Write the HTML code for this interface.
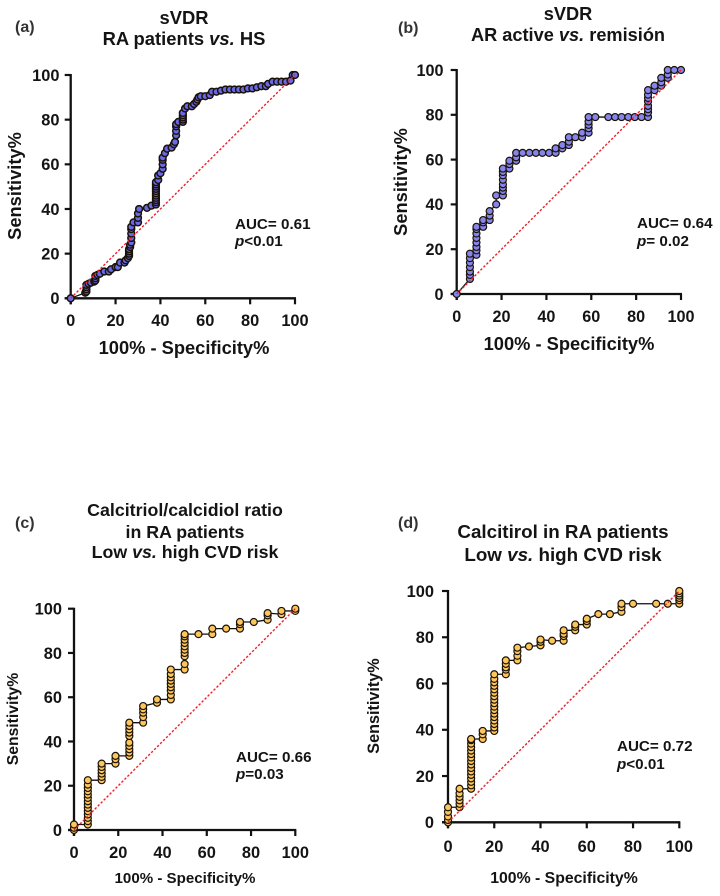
<!DOCTYPE html>
<html lang="en">
<head>
<meta charset="utf-8">
<title>ROC curves</title>
<style>
html,body{margin:0;padding:0;background:#fff;}
svg{display:block;}
text{font-family:"Liberation Sans",sans-serif;font-weight:bold;fill:#141414;}
.panel-label{font-size:16px;fill:#333;}
</style>
</head>
<body>
<svg id="figure" xmlns="http://www.w3.org/2000/svg" width="720" height="896" viewBox="0 0 720 896">
  <rect x="0" y="0" width="720" height="896" fill="#ffffff"/>

  <g>
    <text class="panel-label" x="15" y="32">(a)</text>
    <text text-anchor="middle" font-size="18.4" x="184"><tspan x="184" y="24">sVDR</tspan><tspan x="184" y="45">RA patients <tspan font-style="italic">vs.</tspan> HS</tspan></text>
    <text text-anchor="middle" font-size="18.3" x="184" y="354">100% - Specificity%</text>
    <text text-anchor="middle" font-size="18.3" transform="translate(21 186) rotate(-90)">Sensitivity%</text>
    <text font-size="15.2" x="235" y="229">AUC= 0.61</text>
    <text font-size="15.2" x="235" y="246"><tspan font-style="italic">p</tspan>&lt;0.01</text>
  </g>

  <g>
    <text class="panel-label" x="398" y="33">(b)</text>
    <text text-anchor="middle" font-size="18.2" x="568"><tspan x="568" y="20">sVDR</tspan><tspan x="568" y="41">AR active <tspan font-style="italic">vs.</tspan> remisión</tspan></text>
    <text text-anchor="middle" font-size="18.3" x="569" y="350">100% - Specificity%</text>
    <text text-anchor="middle" font-size="18.3" transform="translate(407 182) rotate(-90)">Sensitivity%</text>
    <text font-size="15.2" x="637" y="228">AUC= 0.64</text>
    <text font-size="15.2" x="637" y="246"><tspan font-style="italic">p</tspan>= 0.02</text>
  </g>

  <g>
    <text class="panel-label" x="15" y="528">(c)</text>
    <text text-anchor="middle" font-size="17.8" x="185"><tspan x="185" y="516">Calcitriol/calcidiol ratio</tspan><tspan x="185" y="538">in RA patients</tspan><tspan x="185" y="558">Low <tspan font-style="italic">vs.</tspan> high CVD risk</tspan></text>
    <text text-anchor="middle" font-size="15.1" x="185" y="883">100% - Specificity%</text>
    <text text-anchor="middle" font-size="15.7" transform="translate(18 719) rotate(-90)">Sensitivity%</text>
    <text font-size="15.2" x="236" y="762">AUC= 0.66</text>
    <text font-size="15.2" x="236" y="779"><tspan font-style="italic">p</tspan>=0.03</text>
  </g>

  <g>
    <text class="panel-label" x="398" y="528">(d)</text>
    <text text-anchor="middle" font-size="18.8" x="563"><tspan x="563" y="538">Calcitirol in RA patients</tspan><tspan x="563" y="561">Low <tspan font-style="italic">vs.</tspan> high CVD risk</tspan></text>
    <text text-anchor="middle" font-size="15.8" x="564" y="883">100% - Specificity%</text>
    <text text-anchor="middle" font-size="16.2" transform="translate(379 706) rotate(-90)">Sensitivity%</text>
    <text font-size="15.2" x="617" y="751">AUC= 0.72</text>
    <text font-size="15.2" x="617" y="769"><tspan font-style="italic">p</tspan>&lt;0.01</text>
  </g>
</svg>

<script>
const tickLabels = [0, 20, 40, 60, 80, 100];

const fprA = [0,6.5,7,7,7,7,8,9,10.5,11,11,11,12,13,15,17,18,20,21,22,24,24.5,25.5,26,26,26,26,26.5,26.5,27,27,27,27,27,28,30,30,30,30.5,34,36,38,38,38,38,38,38,38,38,38,38,38,39,39,40,41,41,41,41,42,43,45,46,46.5,47,47,47,47,48,50,50,50,50,50,51,52,54,55,56,56.5,57,58,60,62,63,65,67,69,71,73,75,77,79,81,83,85,87,88,90,92,94,96,98,99,100];
const tprA = [0,2.5,3,4,5,6,6.5,7,7.5,8,9,10,10.5,11,12,12,13,14,14,16,16,17,18,19,20,21,22,23,24,25,27,29,31,32,34,34,36,38,40,40.5,41.5,42,43,44,45,46,47,48,49,50,51,52,53,55,56,58,60,62,63,65,67,67.5,69,70,73,75,77,78,79,79,80,81,82,83,85,86,86,87,88,89,90,90.5,90.5,91,92.5,92.5,93,93.5,93.5,93.5,93.5,93.5,94,94,94.5,95,95,96,97,97,97,97,97.5,100,100];

const fprB = [0,5.9,5.9,5.9,5.9,5.9,5.9,5.9,8.8,8.8,8.8,8.8,8.8,8.8,8.8,8.8,11.8,11.8,11.8,14.7,14.7,14.7,17.6,17.6,20.6,20.6,20.6,20.6,20.6,20.6,20.6,20.6,23.5,23.5,23.5,26.5,26.5,26.5,29.4,32.4,35.3,38.2,41.2,44.1,44.1,47.1,47.1,50,50,50,52.9,55.9,55.9,58.8,58.8,58.8,58.8,58.8,61.8,67.6,70.6,73.5,76.5,79.4,82.4,85.3,85.3,85.3,85.3,85.3,85.3,85.3,85.3,88.2,88.2,91.2,91.2,91.2,94.1,94.1,94.1,97,100];
const tprB = [0,6.7,8.5,10,12,14,16,18,17.5,19.5,21,23,25,27,29,30,30,32,33,33,35,37,40,44,44,46,47.5,49,51,53,54.5,56,56,58,59.5,59.5,61,63,63,63,63,63,63,63,65,65,66.5,66.5,68,70,70,70,72,72,74,75.5,77,79,79,79,79,79,79,79,79,79,81,82.5,84,86,87.5,89,91,91,93,93,94.5,96.5,96.5,98,100,100,100];

const fprC = [0,0,0,6.25,6.25,6.25,6.25,6.25,6.25,6.25,6.25,6.25,6.25,6.25,6.25,6.25,6.25,12.5,12.5,12.5,12.5,12.5,12.5,18.75,18.75,18.75,25,25,25,25,25,25,25,25,25,25,31.25,31.25,31.25,31.25,31.25,37.5,37.5,43.75,43.75,43.75,43.75,43.75,43.75,43.75,43.75,43.75,50,50,50,50,50,50,50,50,50,50,56.25,62.5,62.5,68.75,75,75,75,81.25,87.5,87.5,87.5,93.75,93.75,100,100];
const tprC = [0,1,2.5,2.5,4,5.5,7,8.5,10,11.5,13,14.5,16,17.5,19,20.5,22.5,22.5,24,25.5,27,28.5,30,30,32,33.5,33.5,35,36.5,38,39.5,42.5,44,45.5,47,48.5,48.5,51,53,54.5,56,57.5,59,59,61,63,64.5,66,67.5,69,70.5,72.5,72.5,75,78.5,80,81.5,83,84.5,86,87.5,88.5,88.5,88.5,91,91,91,93,94,94,95,97,98,97.5,99,99,100];

const fprD = [0,0,0,0,0,5,5,5,5,5,5,10,10,10,10,10,10,10,10,10,10,10,10,10,10,10,10,15,15,15,20,20,20,20,20,20,20,20,20,20,20,20,20,20,20,20,20,25,25,25,25,25,30,30,30,30,35,40,40,40,45,50,50,50,50,55,55,55,60,60,60,65,70,75,75,75,80,90,95,100,100,100,100,100,100];
const tprD = [0,1,2.5,4.5,6.5,6.5,8,9.5,11,12.5,14.5,14.5,16,17.5,19,20.5,22,23.5,25,26.5,28,29.5,31,32.5,34,35.5,36,36,38,39.5,39.5,41,42.5,44,45.5,47,48.5,50,51.5,53,54.5,56,57.5,59,60.5,62,64,64,66,67,68.5,70,70,72,74,75.5,76,76.5,78,79,78.5,78.5,80.5,81.5,83,83,84.5,85.5,85.5,87,88,90,90,91,93,94.5,94.5,94.5,94.5,94.5,96,97,98,99,100];

const referenceX = [0, 100];
const referenceY = [0, 100];

const svgNS = 'http://www.w3.org/2000/svg';
const figure = document.getElementById('figure');

function makeScale(d0, d1, r0, r1) {
  return function (v) { return r0 + (v - d0) / (d1 - d0) * (r1 - r0); };
}

function drawPanel(id, xs, ys, fill, box, tickFont, markerStroke, markerRadius) {
  const sx = makeScale(0, 100, box.x0, box.x1);
  const sy = makeScale(0, 100, box.y0, box.y1);

  const g = document.createElementNS(svgNS, 'g');
  
  
  figure.appendChild(g);

  const xAxis = document.createElementNS(svgNS, 'line');
  
  
  xAxis.setAttribute('x1', box.x0 - 6);
  xAxis.setAttribute('x2', box.x1 + 1);
  xAxis.setAttribute('y1', box.y0);
  xAxis.setAttribute('y2', box.y0);
  xAxis.setAttribute('stroke', '#111');
  xAxis.setAttribute('stroke-width', '2.3');
  g.appendChild(xAxis);

  const yAxis = document.createElementNS(svgNS, 'line');
  
  
  yAxis.setAttribute('x1', box.x0);
  yAxis.setAttribute('x2', box.x0);
  yAxis.setAttribute('y1', box.y0 + 6);
  yAxis.setAttribute('y2', box.y1 - 1);
  yAxis.setAttribute('stroke', '#111');
  yAxis.setAttribute('stroke-width', '2.3');
  g.appendChild(yAxis);

  tickLabels.forEach(function (t) {
    const xt = document.createElementNS(svgNS, 'line');
    
    
    xt.setAttribute('x1', sx(t));
    xt.setAttribute('x2', sx(t));
    xt.setAttribute('y1', box.y0);
    xt.setAttribute('y2', box.y0 + 6);
    xt.setAttribute('stroke', '#111');
    xt.setAttribute('stroke-width', '2.2');
    g.appendChild(xt);

    const yt = document.createElementNS(svgNS, 'line');
    
    
    yt.setAttribute('x1', box.x0 - 6);
    yt.setAttribute('x2', box.x0);
    yt.setAttribute('y1', sy(t));
    yt.setAttribute('y2', sy(t));
    yt.setAttribute('stroke', '#111');
    yt.setAttribute('stroke-width', '2.2');
    g.appendChild(yt);

    const xl = document.createElementNS(svgNS, 'text');
    
    
    xl.setAttribute('x', sx(t));
    xl.setAttribute('y', box.xTickY);
    xl.setAttribute('text-anchor', 'middle');
    xl.setAttribute('font-size', tickFont);
    xl.textContent = t;
    g.appendChild(xl);

    const yl = document.createElementNS(svgNS, 'text');
    
    
    yl.setAttribute('x', box.yTickX);
    yl.setAttribute('y', sy(t) + 5.8);
    yl.setAttribute('text-anchor', 'end');
    yl.setAttribute('font-size', tickFont);
    yl.textContent = t;
    g.appendChild(yl);
  });

  const path = document.createElementNS(svgNS, 'polyline');
  
  
  path.setAttribute('fill', 'none');
  path.setAttribute('stroke', '#111');
  path.setAttribute('stroke-width', '1.3');
  path.setAttribute('points', xs.map(function (v, i) { return sx(v) + ',' + sy(ys[i]); }).join(' '));
  g.appendChild(path);

  xs.forEach(function (v, i) {
    const c = document.createElementNS(svgNS, 'circle');
    
    
    c.setAttribute('cx', sx(v));
    c.setAttribute('cy', sy(ys[i]));
    c.setAttribute('r', markerRadius);
    c.setAttribute('fill', fill);
    c.setAttribute('stroke', '#1a1208');
    c.setAttribute('stroke-width', markerStroke);
    g.appendChild(c);
  });

  const ref = document.createElementNS(svgNS, 'line');
  
  
  ref.setAttribute('x1', sx(referenceX[0]));
  ref.setAttribute('y1', sy(referenceY[0]));
  ref.setAttribute('x2', sx(referenceX[1]));
  ref.setAttribute('y2', sy(referenceY[1]));
  ref.setAttribute('stroke', '#f0202a');
  ref.setAttribute('stroke-width', '1.4');
  ref.setAttribute('stroke-dasharray', '2.4 1.8');
  g.appendChild(ref);
}

drawPanel('a', fprA, tprA, '#6a6ae6', {x0: 70.7, x1: 295, y0: 298.3, y1: 75, xTickY: 326, yTickX: 59.5}, 16.4, 1.5, 3.4);
drawPanel('b', fprB, tprB, '#8585ea', {x0: 456.7, x1: 681, y0: 294, y1: 70, xTickY: 322, yTickX: 443.5}, 16.2, 1.2, 3.5);
drawPanel('c', fprC, tprC, '#fdc65c', {x0: 74, x1: 295.3, y0: 830, y1: 608.7, xTickY: 858, yTickX: 62}, 16.4, 1.2, 3.5);
drawPanel('d', fprD, tprD, '#fdc65c', {x0: 448, x1: 679.3, y0: 822.3, y1: 591, xTickY: 852, yTickX: 434}, 16.4, 1.2, 3.5);
</script>
</body>
</html>
